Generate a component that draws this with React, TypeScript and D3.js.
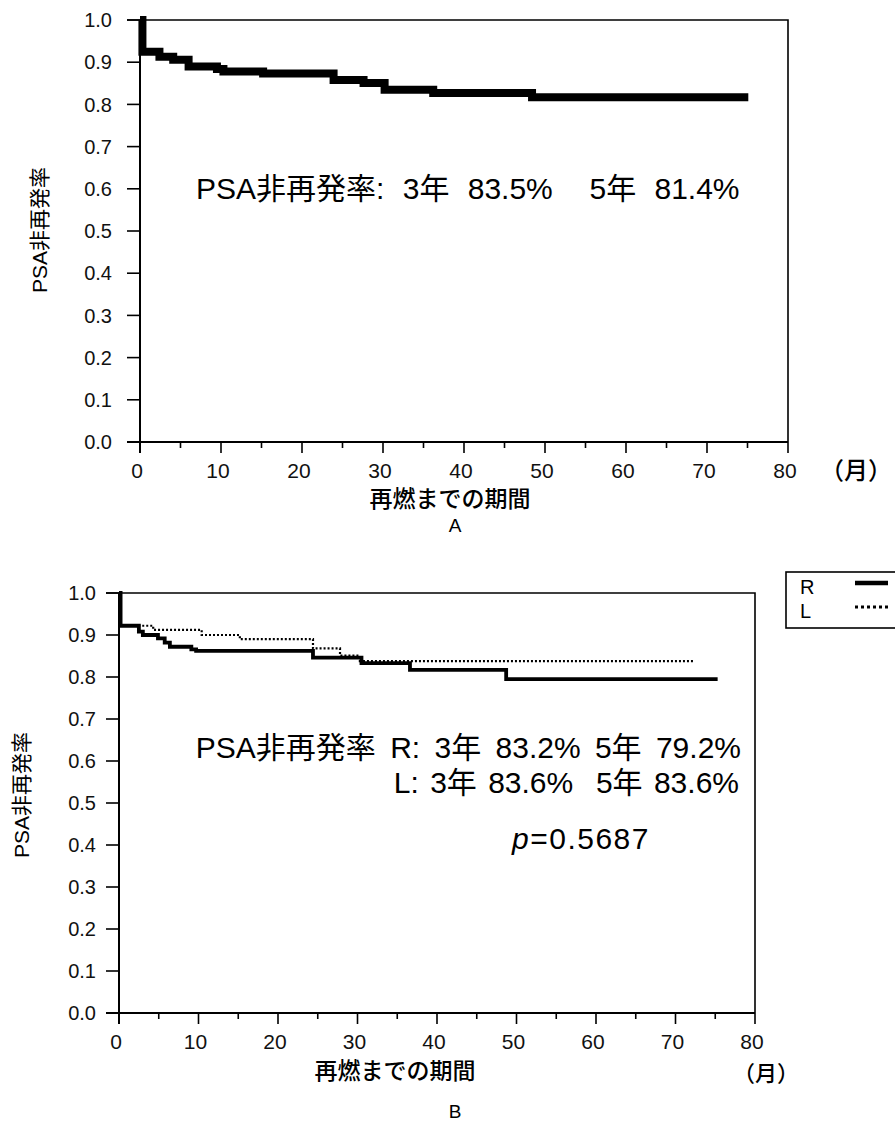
import React, { useEffect, useRef } from 'react';
import * as d3 from 'd3';

// Panel A: overall PSA non-recurrence (months, survival)
const monthsA = [0, 0.3, 2.4, 4.1, 6.0, 9.5, 10.3, 15.2, 23.9, 27.6, 30.2, 36.2, 48.4, 75.1];
const survA = [1.0, 0.925, 0.913, 0.906, 0.89, 0.884, 0.878, 0.873, 0.858, 0.851, 0.835, 0.827, 0.817, 0.817];

// Panel B: R (solid) and L (dotted)
const monthsR = [0, 0.2, 2.5, 3.0, 4.9, 5.75, 6.4, 9.1, 9.7, 24.4, 30.5, 36.6, 48.7, 75.3];
const survR = [1.0, 0.922, 0.908, 0.9, 0.892, 0.882, 0.872, 0.866, 0.862, 0.846, 0.833, 0.817, 0.795, 0.795];
const monthsL = [0, 0.2, 4.3, 10.4, 15.2, 24.4, 27.8, 30.3, 72.4];
const survL = [1.0, 0.922, 0.912, 0.9, 0.89, 0.868, 0.851, 0.838, 0.838];

const yTicks = [0, 0.1, 0.2, 0.3, 0.4, 0.5, 0.6, 0.7, 0.8, 0.9, 1.0];
const xMajor = [0, 10, 20, 30, 40, 50, 60, 70, 80];
const xMinor = [5, 15, 25, 35, 45, 55, 65, 75];

const latinFont = '"Liberation Sans", Arial, "Noto Sans CJK JP", sans-serif';
const narrowFont = '"Liberation Sans Narrow", "Liberation Sans", Arial, sans-serif';
const jpFont = '"Noto Sans CJK JP", "Noto Sans", sans-serif';

const toPoints = (ts, vs) => ts.map((t, i) => ({ t, v: vs[i] }));

// draws axes + box for one panel, returns the scales
function drawFrame(svg, box) {
  const x = d3.scaleLinear().domain([0, 80]).range([box.left, box.right]);
  const y = d3.scaleLinear().domain([0, 1]).range([box.bottom, box.top]);
  const g = svg.append('g');

  // box top + right
  g.append('path')
    .attr('d', `M${box.left - 13},${box.top}H${box.right}V${box.bottom}`)
    .attr('fill', 'none').attr('stroke', '#000').attr('stroke-width', 1.6);

  // axes
  g.append('line').attr('x1', box.left - 13).attr('x2', box.right)
    .attr('y1', box.bottom).attr('y2', box.bottom)
    .attr('stroke', '#000').attr('stroke-width', 2);
  g.append('line').attr('x1', box.left).attr('x2', box.left)
    .attr('y1', box.top).attr('y2', box.bottom + 11)
    .attr('stroke', '#000').attr('stroke-width', 2);

  yTicks.forEach((v) => {
    g.append('line').attr('x1', box.left - 13).attr('x2', box.left)
      .attr('y1', y(v)).attr('y2', y(v)).attr('stroke', '#000').attr('stroke-width', 1.6);
    g.append('text').attr('x', box.left - box.labelGap).attr('y', y(v)).attr('dy', '0.36em')
      .attr('text-anchor', 'end').attr('font-family', latinFont).attr('font-size', 20)
      .attr('fill', '#111').text(v.toFixed(1));
  });

  xMajor.forEach((v) => {
    g.append('line').attr('x1', x(v)).attr('x2', x(v))
      .attr('y1', box.bottom).attr('y2', box.bottom + 11).attr('stroke', '#000').attr('stroke-width', 1.6);
    g.append('text').attr('x', x(v) - 3).attr('y', box.bottom + 36)
      .attr('text-anchor', 'middle').attr('font-family', narrowFont).attr('font-size', 21)
      .attr('fill', '#111').text(v);
  });
  xMinor.forEach((v) => {
    g.append('line').attr('x1', x(v)).attr('x2', x(v))
      .attr('y1', box.bottom).attr('y2', box.bottom + 6).attr('stroke', '#000').attr('stroke-width', 1.6);
  });

  return { x, y };
}

const App = () => {
  const svgRef = useRef(null);

  useEffect(() => {
    const svg = d3.select(svgRef.current);
    svg.selectAll('*').remove();

    // ---------- Panel A ----------
    const boxA = { left: 140, right: 788, top: 20, bottom: 442, labelGap: 28 };
    const a = drawFrame(svg, boxA);
    const lineA = d3.line().curve(d3.curveStepAfter).x((d) => a.x(d.t)).y((d) => a.y(d.v));
    svg.append('path').datum(toPoints(monthsA, survA))
      .attr('d', lineA).attr('fill', 'none').attr('stroke', '#000').attr('stroke-width', 8);

    svg.append('text').attr('transform', 'translate(47,230) rotate(-90)')
      .attr('text-anchor', 'middle').attr('font-family', latinFont).attr('font-size', 21)
      .text('PSA非再発率');
    svg.append('text').attr('x', 196).attr('y', 199)
      .attr('font-family', latinFont).attr('font-size', 30).attr('word-spacing', 10)
      .attr('xml:space', 'preserve')
      .text('PSA非再発率: 3年 83.5%  5年 81.4%');
    svg.append('text').attr('x', 450).attr('y', 507).attr('text-anchor', 'middle')
      .attr('font-family', jpFont).attr('font-size', 23).attr('font-weight', 500).text('再燃までの期間');
    svg.append('text').attr('x', 820).attr('y', 479)
      .attr('font-family', jpFont).attr('font-size', 24).attr('font-weight', 500).text('（月）');
    svg.append('text').attr('x', 455).attr('y', 532).attr('text-anchor', 'middle')
      .attr('font-family', latinFont).attr('font-size', 19).text('A');

    // ---------- Panel B ----------
    const boxB = { left: 119, right: 755, top: 593, bottom: 1013, labelGap: 23 };
    const b = drawFrame(svg, boxB);
    const lineB = d3.line().curve(d3.curveStepAfter).x((d) => b.x(d.t)).y((d) => b.y(d.v));
    svg.append('path').datum(toPoints(monthsL, survL))
      .attr('d', lineB).attr('fill', 'none').attr('stroke', '#000')
      .attr('stroke-width', 2.2).attr('stroke-dasharray', '2,2');
    svg.append('path').datum(toPoints(monthsR, survR))
      .attr('d', lineB).attr('fill', 'none').attr('stroke', '#000').attr('stroke-width', 3.8);

    svg.append('text').attr('transform', 'translate(29,795) rotate(-90)')
      .attr('text-anchor', 'middle').attr('font-family', latinFont).attr('font-size', 21)
      .text('PSA非再発率');
    svg.append('text').attr('x', 741).attr('y', 758).attr('text-anchor', 'end')
      .attr('font-family', latinFont).attr('font-size', 30).attr('word-spacing', 6)
      .text('PSA非再発率 R: 3年 83.2% 5年 79.2%');
    svg.append('text').attr('x', 739).attr('y', 793).attr('text-anchor', 'end')
      .attr('font-family', latinFont).attr('font-size', 30).attr('word-spacing', 3)
      .attr('xml:space', 'preserve')
      .text('L: 3年 83.6%  5年 83.6%');
    const pTxt = svg.append('text').attr('x', 512).attr('y', 849)
      .attr('font-family', latinFont).attr('font-size', 30).attr('letter-spacing', 1.5);
    pTxt.append('tspan').attr('font-style', 'italic').text('p');
    pTxt.append('tspan').text('=0.5687');

    svg.append('text').attr('x', 395).attr('y', 1079).attr('text-anchor', 'middle')
      .attr('font-family', jpFont).attr('font-size', 23).attr('font-weight', 500).text('再燃までの期間');
    svg.append('text').attr('x', 733).attr('y', 1081)
      .attr('font-family', jpFont).attr('font-size', 22).attr('font-weight', 500).text('（月）');
    svg.append('text').attr('x', 455).attr('y', 1118).attr('text-anchor', 'middle')
      .attr('font-family', latinFont).attr('font-size', 19).text('B');

    // legend
    const leg = svg.append('g');
    leg.append('rect').attr('x', 786).attr('y', 572).attr('width', 130).attr('height', 56)
      .attr('fill', '#fff').attr('stroke', '#000').attr('stroke-width', 1.6);
    const legItems = [
      { label: 'R', dash: null, w: 4.5, y: 587 },
      { label: 'L', dash: '3,3', w: 3, y: 611 },
    ];
    legItems.forEach((it) => {
      leg.append('text').attr('x', 800).attr('y', it.y).attr('dy', '0.36em')
        .attr('font-family', latinFont).attr('font-size', 20).text(it.label);
      leg.append('line').attr('x1', 855).attr('x2', 888).attr('y1', it.y - 4).attr('y2', it.y - 4)
        .attr('stroke', '#000').attr('stroke-width', it.w)
        .attr('stroke-dasharray', it.dash);
    });
  }, []);

  return (
    <svg
      ref={svgRef}
      width={895}
      height={1126}
      style={{ position: 'absolute', left: 0, top: 0, background: '#fff' }}
    ></svg>
  );
};

export default App;
